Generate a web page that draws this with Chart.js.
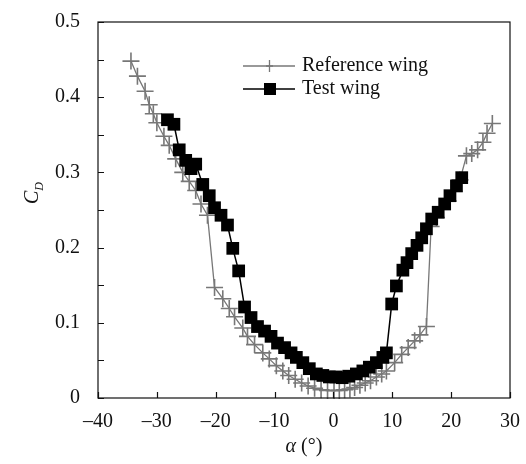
<!DOCTYPE html>
<html>
<head>
<meta charset="utf-8">
<script src="https://cdn.jsdelivr.net/npm/chart.js@4.4.1/dist/chart.umd.min.js"></script>
<style>
  html, body { margin: 0; padding: 0; background: #fff; }
  #wrap { width: 526px; height: 464px; }
</style>
</head>
<body>
<div id="wrap"><canvas id="cdChart" width="526" height="464"></canvas></div>
<script>
// Angle of attack (deg) and drag coefficient, reference wing
const refAlpha = [-34.4, -33.3, -32.0, -31.3, -30.6, -30.0, -28.8, -27.9, -26.8, -25.6,
  -24.5, -23.4, -22.5, -21.4, -20.2, -18.8, -17.7, -16.8, -15.4, -14.6,
  -13.4, -12.0, -10.9, -9.7, -8.6, -7.6, -6.5, -5.4, -4.3, -3.2,
  -2.1, -1.0, 0.1, 1.0, 1.9, 2.8, 3.6, 4.5, 5.4, 6.3,
  7.3, 8.2, 9.0, 10.4, 11.6, 12.7, 13.8, 14.7, 15.8, 16.6,
  17.5, 18.5, 19.5, 20.5, 21.5, 22.6, 23.5, 24.5, 25.4, 26.1, 27.0];
const refCd = [0.448, 0.428, 0.408, 0.390, 0.378, 0.366, 0.348, 0.336, 0.318, 0.300,
  0.288, 0.276, 0.258, 0.243, 0.147, 0.132, 0.119, 0.108, 0.093, 0.082,
  0.071, 0.060, 0.052, 0.043, 0.036, 0.030, 0.025, 0.020, 0.016, 0.013,
  0.011, 0.010, 0.010, 0.010, 0.011, 0.012, 0.014, 0.017, 0.020, 0.023,
  0.028, 0.032, 0.036, 0.047, 0.058, 0.067, 0.076, 0.084, 0.095, 0.228,
  0.240, 0.251, 0.262, 0.275, 0.290, 0.322, 0.325, 0.330, 0.340, 0.352, 0.365];

// Test wing
const testAlpha = [-28.2, -27.1, -26.2, -25.1, -24.2, -23.4, -22.2, -21.1, -20.2, -19.1,
  -18.0, -17.1, -16.1, -15.1, -14.0, -12.9, -11.7, -10.6, -9.5, -8.3,
  -7.2, -6.3, -5.2, -4.1, -2.9, -1.8, -0.7, 0.4, 1.5, 2.6,
  3.9, 5.0, 6.1, 7.3, 8.4, 9.0, 9.9, 10.7, 11.8, 12.5,
  13.3, 14.2, 15.0, 15.8, 16.7, 17.8, 18.9, 19.8, 20.9, 21.8];
const testCd = [0.370, 0.364, 0.330, 0.316, 0.305, 0.311, 0.284, 0.269, 0.253, 0.243,
  0.230, 0.199, 0.169, 0.121, 0.107, 0.095, 0.089, 0.082, 0.073, 0.067,
  0.060, 0.054, 0.047, 0.039, 0.032, 0.030, 0.028, 0.028, 0.027, 0.029,
  0.032, 0.036, 0.041, 0.047, 0.054, 0.060, 0.125, 0.149, 0.170, 0.180,
  0.192, 0.203, 0.213, 0.225, 0.238, 0.247, 0.258, 0.269, 0.282, 0.293];

const xTicks = [-40, -30, -20, -10, 0, 10, 20, 30];
const seriesNames = ["Reference wing", "Test wing"];

const FONT = "'Liberation Serif', 'Times New Roman', serif";
const GREY = "#777777";

const toPoints = (xs, ys) => xs.map((x, i) => ({ x: x, y: ys[i] }));

// frame, inward ticks, axis titles and legend
const decor = {
  id: "decor",
  afterDatasetsDraw(chart) {
    const ctx = chart.ctx;
    const a = chart.chartArea;
    const xs = chart.scales.x;
    const ys = chart.scales.y;
    ctx.save();
    ctx.strokeStyle = "#111";
    ctx.lineWidth = 1.2;
    ctx.strokeRect(a.left, a.top, a.right - a.left, a.bottom - a.top);

    ctx.beginPath();
    ys.ticks.forEach(t => {
      const py = Math.round(ys.getPixelForValue(t.value)) + 0.5;
      ctx.moveTo(a.left, py);
      ctx.lineTo(a.left + 6, py);
    });
    xTicks.forEach(v => {
      const px = Math.round(xs.getPixelForValue(v)) + 0.5;
      ctx.moveTo(px, a.bottom);
      ctx.lineTo(px, a.bottom - 6);
    });
    ctx.stroke();

    // x title: α (°)
    ctx.fillStyle = "#111";
    ctx.textBaseline = "middle";
    ctx.textAlign = "left";
    ctx.font = "italic 20px " + FONT;
    const cx = (a.left + a.right) / 2;
    const wA = ctx.measureText("α").width;
    ctx.font = "20px " + FONT;
    const wR = ctx.measureText(" (°)").width;
    let sx = cx - (wA + wR) / 2;
    ctx.font = "italic 20px " + FONT;
    ctx.fillText("α", sx, 447);
    ctx.font = "20px " + FONT;
    ctx.fillText(" (°)", sx + wA, 447);

    // y title: C_D, rotated
    ctx.save();
    ctx.translate(33, 193);
    ctx.rotate(-Math.PI / 2);
    ctx.font = "italic 20px " + FONT;
    const wC = ctx.measureText("C").width;
    ctx.fillText("C", -11, 0);
    ctx.font = "italic 12px " + FONT;
    ctx.fillText("D", -11 + wC, 7);
    ctx.restore();

    // legend
    const rows = [
      { y: 66, color: GREY, lw: 1.3, style: "cross" },
      { y: 89, color: "#000", lw: 1.5, style: "rect" }
    ];
    rows.forEach((r, i) => {
      ctx.strokeStyle = r.color;
      ctx.lineWidth = r.lw;
      ctx.beginPath();
      ctx.moveTo(243, r.y);
      ctx.lineTo(295, r.y);
      ctx.stroke();
      if (r.style === "cross") {
        ctx.beginPath();
        ctx.moveTo(269.5, r.y - 6);
        ctx.lineTo(269.5, r.y + 6);
        ctx.moveTo(266, r.y);
        ctx.lineTo(273, r.y);
        ctx.stroke();
      } else {
        ctx.fillStyle = "#000";
        ctx.fillRect(264, r.y - 6, 12, 12);
      }
      ctx.fillStyle = "#111";
      ctx.font = "20px " + FONT;
      ctx.fillText(seriesNames[i], 302, r.y);
    });
    ctx.restore();
  }
};

new Chart(document.getElementById("cdChart"), {
  type: "scatter",
  data: {
    datasets: [
      {
        label: seriesNames[0],
        data: toPoints(refAlpha, refCd),
        showLine: true,
        borderColor: GREY,
        backgroundColor: GREY,
        borderWidth: 1.3,
        pointStyle: "cross",
        pointRadius: 8.5,
        pointBorderWidth: 1.6,
        pointBorderColor: GREY,
        order: 2
      },
      {
        label: seriesNames[1],
        data: toPoints(testAlpha, testCd),
        showLine: true,
        borderColor: "#000",
        backgroundColor: "#000",
        borderWidth: 1.5,
        pointStyle: "rect",
        pointRadius: 9,
        pointBorderWidth: 0,
        order: 1
      }
    ]
  },
  options: {
    responsive: false,
    animation: false,
    clip: false,
    layout: { padding: { left: 0, right: 16, top: 14, bottom: 0 } },
    plugins: {
      legend: { display: false },
      tooltip: { enabled: false }
    },
    scales: {
      x: {
        type: "linear",
        min: -40,
        max: 30,
        afterBuildTicks: s => { s.ticks = xTicks.map(v => ({ value: v })); },
        afterFit: s => { s.height = 66; },
        grid: { display: false },
        border: { display: false },
        ticks: {
          padding: 4,
          color: "#111",
          font: { family: FONT, size: 20 },
          callback: v => (v < 0 ? "–" + Math.abs(v) : String(v))
        }
      },
      y: {
        min: 0,
        max: 0.5,
        afterFit: s => { s.width = 98; },
        grid: { display: false },
        border: { display: false },
        ticks: {
          stepSize: 0.05,
          autoSkip: false,
          padding: 10,
          color: "#111",
          font: { family: FONT, size: 20 },
          callback: v => {
            const k = Math.round(v * 20);
            if (k % 2 !== 0) return "";
            return k === 0 ? "0" : (k / 20).toFixed(1);
          }
        }
      }
    }
  },
  plugins: [decor]
});
</script>
</body>
</html>
